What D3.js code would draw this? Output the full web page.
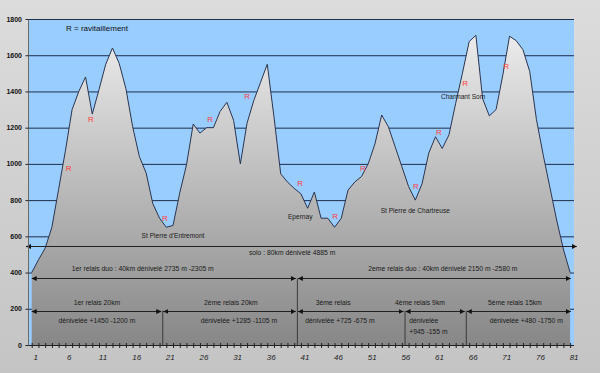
<!DOCTYPE html>
<html>
<head>
<meta charset="utf-8">
<script src="https://cdn.jsdelivr.net/npm/d3@7"></script>
<style>
  body { margin: 0; }
  svg text { font-family: "Liberation Sans", Arial, sans-serif; }
</style>
</head>
<body>
<div id="chart"></div>
<script>
// km markers along the course (category axis 1..81)
const categories = d3.range(1, 82);
const elevation = [400, 470, 535, 650, 860, 1070, 1300, 1400, 1480, 1275,
  1410, 1550, 1640, 1555, 1415, 1205, 1040, 950, 780, 700,
  650, 660, 840, 995, 1220, 1170, 1200, 1200, 1290, 1340,
  1240, 1000, 1225, 1350, 1450, 1550, 1260, 945, 900, 865,
  835, 755, 845, 700, 700, 650, 700, 855, 900, 930,
  1000, 1110, 1270, 1205, 1095, 985, 875, 800, 890, 1060,
  1150, 1085, 1160, 1335, 1500, 1675, 1710, 1360, 1265, 1300,
  1490, 1705, 1680, 1630, 1510, 1245, 1050, 870, 690, 530, 400];
const xTickLabels = ["1", "6", "11", "16", "21", "26", "31", "36", "41", "46", "51", "56", "61", "66", "71", "76", "81"];
const yTicks = [0, 200, 400, 600, 800, 1000, 1200, 1400, 1600, 1800];

// ravitaillement points [km, elevation]
const ravito = [[6.5, 977], [9.8, 1247], [20.8, 697], [27.5, 1247], [33.0, 1374], [40.9, 889],
  [46.1, 712], [50.2, 977], [58.1, 877], [61.5, 1175], [65.4, 1446], [71.5, 1535]];

// place names [label, km, elevation]
const places = [["St Pierre d'Entremont", 22.0, 607], ["Epernay", 40.9, 709],
  ["St Pierre de Chartreuse", 58.0, 742], ["Charmant Som", 65.1, 1370]];

// relay boundaries (km)
const bounds = [20.4, 40.4, 56.4, 65.5];

// arrow spans [from, to, level]
const spans = [
  [0.15, 82, 548],
  [1, 40.25, 368], [40.55, 81.1, 368],
  [1, 20.25, 189], [20.55, 40.25, 189], [40.55, 56.25, 189], [56.55, 65.35, 189], [65.65, 81.1, 189]
];

// span labels [text, km, elevation, anchor]
const spanLabels = [
  ["solo : 80km dénivelé 4885 m", 39.7, 508, "middle"],
  ["1er relais duo : 40km dénivelé 2735 m -2305 m", 17.5, 420, "middle"],
  ["2eme relais duo : 40km dénivelé 2150 m -2580 m", 62.1, 420, "middle"],
  ["1er relais 20km", 10.7, 237, "middle"],
  ["dénivelée +1450  -1200 m", 10.7, 138, "middle"],
  ["2ème relais 20km", 30.6, 237, "middle"],
  ["dénivelée +1285 -1105 m", 31.8, 138, "middle"],
  ["3ème relais", 45.8, 237, "middle"],
  ["dénivelée +725 -675 m", 46.8, 138, "middle"],
  ["4ème relais 9km", 58.7, 237, "middle"],
  ["dénivelée", 57.1, 138, "start"],
  ["+945 -155 m", 57.1, 77, "start"],
  ["5ème relais 15km", 72.8, 237, "middle"],
  ["dénivelée +480 -1750 m", 74.5, 138, "middle"]
];

const width = 600, height = 373;
const plot = { left: 28.5, right: 574, top: 19, bottom: 345 };

const x = d3.scaleLinear().domain([1, 81]).range([31.7, 570.1]);
const y = d3.scaleLinear().domain([0, 1800]).range([plot.bottom, plot.top]);

const svg = d3.select("#chart").append("svg")
  .attr("width", width)
  .attr("height", height);

const defs = svg.append("defs");
const bg = defs.append("linearGradient").attr("id", "bg").attr("x1", 0).attr("y1", 0).attr("x2", 0).attr("y2", 1);
bg.append("stop").attr("offset", 0).attr("stop-color", "#dcdcdc");
bg.append("stop").attr("offset", 1).attr("stop-color", "#c4c4c4");

const fill = defs.append("linearGradient").attr("id", "fill")
  .attr("gradientUnits", "userSpaceOnUse")
  .attr("x1", 0).attr("y1", y(1710)).attr("x2", 0).attr("y2", y(0));
fill.append("stop").attr("offset", 0).attr("stop-color", "#ebebeb");
fill.append("stop").attr("offset", 1).attr("stop-color", "#878787");

defs.append("marker")
  .attr("id", "head")
  .attr("viewBox", "0 0 6 6")
  .attr("refX", 6).attr("refY", 3)
  .attr("markerWidth", 5).attr("markerHeight", 5)
  .attr("markerUnits", "userSpaceOnUse")
  .attr("orient", "auto-start-reverse")
  .append("path").attr("d", "M0,0L6,3L0,6Z").attr("fill", "#111");

svg.append("rect").attr("width", width).attr("height", height).attr("fill", "url(#bg)");

// plot area
svg.append("rect")
  .attr("x", plot.left).attr("y", plot.top)
  .attr("width", plot.right - plot.left).attr("height", plot.bottom - plot.top)
  .attr("fill", "#99ccff");

// gridlines
svg.append("g").selectAll("line")
  .data(yTicks.filter(d => d > 0))
  .join("line")
  .attr("x1", plot.left).attr("x2", plot.right)
  .attr("y1", d => y(d) + 0.5).attr("y2", d => y(d) + 0.5)
  .attr("stroke", "#1e2e4e").attr("stroke-width", 1);

// elevation profile
const area = d3.area()
  .x((d, i) => x(categories[i]))
  .y0(y(0))
  .y1(d => y(d));

svg.append("path")
  .datum(elevation)
  .attr("d", area)
  .attr("fill", "url(#fill)");

svg.append("path")
  .datum(elevation)
  .attr("d", d3.line().x((d, i) => x(categories[i])).y(d => y(d)))
  .attr("fill", "none")
  .attr("stroke", "#2a3550")
  .attr("stroke-width", 1);

// relay separators
svg.append("g").selectAll("line")
  .data(bounds)
  .join("line")
  .attr("x1", d => x(d) + 0.5).attr("x2", d => x(d) + 0.5)
  .attr("y1", (d, i) => i === 1 ? y(368) : y(189))
  .attr("y2", y(0))
  .attr("stroke", "#3a3a3a");

// arrows
svg.append("g").selectAll("line")
  .data(spans)
  .join("line")
  .attr("x1", d => x(d[0])).attr("x2", d => x(d[1]))
  .attr("y1", d => Math.round(y(d[2])) + 0.5).attr("y2", d => Math.round(y(d[2])) + 0.5)
  .attr("stroke", "#222")
  .attr("marker-start", "url(#head)")
  .attr("marker-end", "url(#head)");

// span labels
svg.append("g").selectAll("text")
  .data(spanLabels)
  .join("text")
  .attr("x", d => x(d[1])).attr("y", d => y(d[2]))
  .attr("text-anchor", d => d[3])
  .attr("dominant-baseline", "central")
  .attr("font-size", 6.8)
  .attr("fill", "#1a1a1a")
  .text(d => d[0]);

// place names
svg.append("g").selectAll("text")
  .data(places)
  .join("text")
  .attr("x", d => x(d[1])).attr("y", d => y(d[2]))
  .attr("text-anchor", "middle")
  .attr("dominant-baseline", "central")
  .attr("font-size", 6.6)
  .attr("fill", "#1a1a1a")
  .text(d => d[0]);

// ravitaillement marks
svg.append("g").selectAll("text")
  .data(ravito)
  .join("text")
  .attr("x", d => x(d[0])).attr("y", d => y(d[1]))
  .attr("text-anchor", "middle")
  .attr("dominant-baseline", "central")
  .attr("font-size", 8)
  .attr("fill", "#ff3c3c")
  .text("R");

svg.append("text")
  .attr("x", x(6.1)).attr("y", y(1745))
  .attr("dominant-baseline", "central")
  .attr("font-size", 8)
  .attr("fill", "#111")
  .text("R = ravitaillement");

// y axis
svg.append("line")
  .attr("x1", plot.left).attr("x2", plot.left)
  .attr("y1", plot.top).attr("y2", plot.bottom)
  .attr("stroke", "#6a6a6a");

const yAxis = svg.append("g");
yAxis.selectAll("line")
  .data(yTicks)
  .join("line")
  .attr("x1", plot.left - 3).attr("x2", plot.left)
  .attr("y1", d => y(d) + 0.5).attr("y2", d => y(d) + 0.5)
  .attr("stroke", "#222");
yAxis.selectAll("text")
  .data(yTicks)
  .join("text")
  .attr("x", 22).attr("y", d => y(d))
  .attr("text-anchor", "end")
  .attr("dominant-baseline", "central")
  .attr("font-size", 7)
  .attr("font-weight", "bold")
  .attr("fill", "#111")
  .text(d => d);

// x axis
const xAxis = svg.append("g").attr("transform", `translate(0,${plot.bottom})`);
xAxis.append("line")
  .attr("x1", plot.left).attr("x2", plot.right)
  .attr("y1", 0.5).attr("y2", 0.5)
  .attr("stroke", "#222");
xAxis.selectAll("line.tick")
  .data(categories)
  .join("line")
  .attr("class", "tick")
  .attr("x1", d => x(d) + 0.5).attr("x2", d => x(d) + 0.5)
  .attr("y1", -2).attr("y2", 3)
  .attr("stroke", "#222");
xAxis.selectAll("text")
  .data(xTickLabels)
  .join("text")
  .attr("x", d => x(+d) + 4).attr("y", 12)
  .attr("text-anchor", "middle")
  .attr("dominant-baseline", "central")
  .attr("font-size", 8)
  .attr("font-style", "italic")
  .attr("fill", "#222")
  .text(d => d);
</script>
</body>
</html>
